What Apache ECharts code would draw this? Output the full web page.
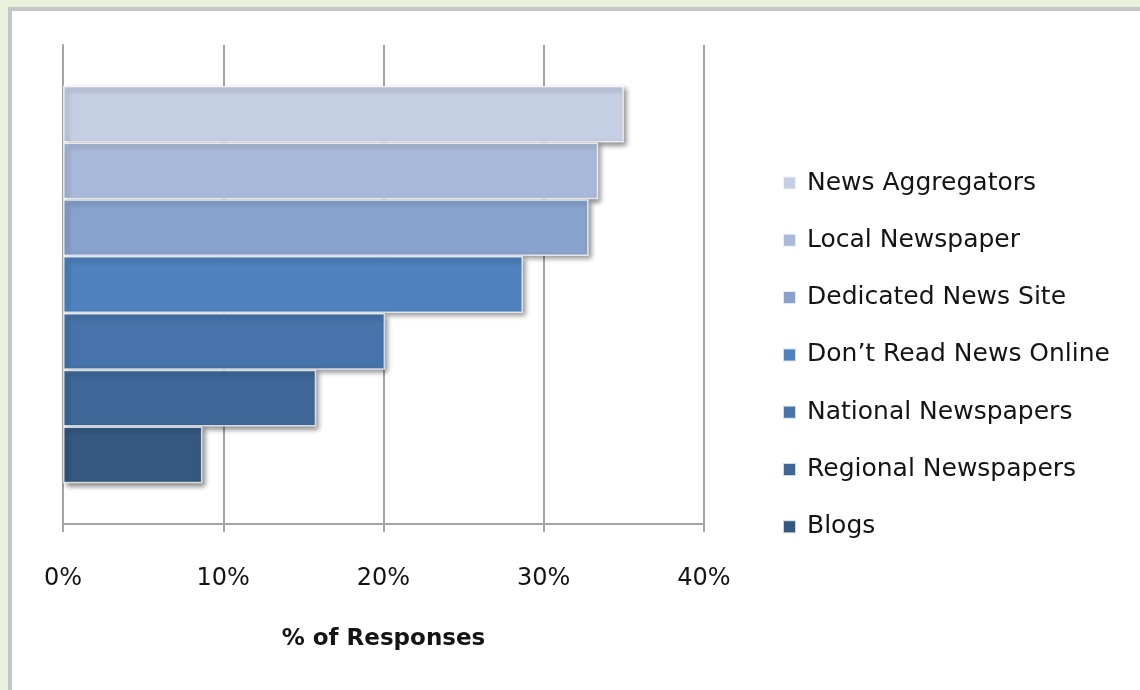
<!DOCTYPE html>
<html>
<head>
<meta charset="utf-8">
<script src="https://cdn.jsdelivr.net/npm/echarts@6/dist/echarts.min.js"></script>
<style>
  html, body { margin: 0; padding: 0; width: 1140px; height: 690px; background: #e9f1dc; overflow: hidden; }
  #panel { position: absolute; left: 8px; top: 7px; right: 0; bottom: 0; background: #ffffff;
           border-top: 4px solid #c6c6c6; border-left: 4px solid #c6c6c6; box-sizing: border-box; }
  #chart { position: absolute; left: 0; top: 0; width: 1140px; height: 690px; }
</style>
</head>
<body>
<div id="panel"></div>
<div id="chart"></div>
<script>
// Where readers get their news online (% of responses)
const sources = ['News Aggregators', 'Local Newspaper', 'Dedicated News Site', 'Don\u2019t Read News Online',
                 'National Newspapers', 'Regional Newspapers', 'Blogs'];
const shares = [35.0, 33.4, 32.8, 28.7, 20.1, 15.8, 8.7];
const palette = ['#c5cfe3', '#a9b9d9', '#87a2cd', '#4e81bd', '#4673a9', '#3e6798', '#34587f'];
const xTicks = [0, 10, 20, 30, 40];

const chart = echarts.init(document.getElementById('chart'), null, { renderer: 'canvas' });

const series = sources.map((name, i) => ({
  name: name,
  type: 'bar',
  data: [shares[i]],
  barGap: '0%',
  barCategoryGap: '17%',
  itemStyle: {
    color: palette[i],
    borderColor: 'rgba(255,255,255,0.75)',
    borderWidth: 1.5,
    shadowColor: 'rgba(0,0,0,0.45)',
    shadowBlur: 5,
    shadowOffsetX: 3,
    shadowOffsetY: 3
  },
  emphasis: { disabled: true }
}));

chart.setOption({
  animation: false,
  textStyle: { fontFamily: '"DejaVu Sans", sans-serif', color: '#141414' },
  grid: { left: 63, right: 436, top: 45, bottom: 166, containLabel: false },
  xAxis: {
    type: 'value',
    min: xTicks[0],
    max: xTicks[xTicks.length - 1],
    interval: 10,
    name: '% of Responses',
    nameLocation: 'middle',
    nameGap: 104,
    nameTextStyle: { fontSize: 23, fontWeight: 'bold', color: '#141414' },
    axisLine: { show: true, lineStyle: { color: '#a4a4a4', width: 2 } },
    axisTick: { show: true, length: 8, lineStyle: { color: '#a4a4a4', width: 2 } },
    axisLabel: { formatter: '{value}%', fontSize: 24, color: '#141414', margin: 43 },
    splitLine: { show: true, lineStyle: { color: '#a4a4a4', width: 2 } }
  },
  yAxis: {
    type: 'category',
    data: ['Source'],
    inverse: true,
    axisLine: { show: true, lineStyle: { color: '#a4a4a4', width: 2 } },
    axisTick: { show: false },
    axisLabel: { show: false }
  },
  legend: {
    orient: 'vertical',
    left: 777,
    top: 163,
    icon: 'rect',
    itemWidth: 13,
    itemHeight: 13,
    itemGap: 27.3,
    data: sources,
    textStyle: { fontSize: 25, color: '#141414', lineHeight: 30, padding: [0, 0, 0, 6] },
    selectedMode: false
  },
  series: series
});
</script>
</body>
</html>
